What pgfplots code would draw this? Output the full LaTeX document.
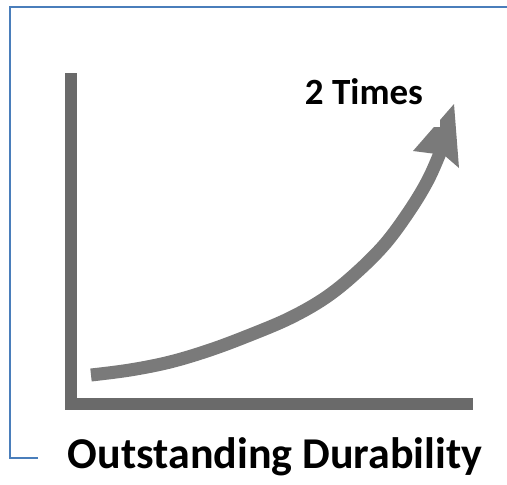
\documentclass[border=0pt]{standalone}
\usepackage{pgfplots}
\pgfplotsset{compat=1.18}
\usepackage{fontspec}
\setmainfont{Carlito}
\definecolor{frameblue}{RGB}{74,126,187}
\definecolor{axgray}{RGB}{106,106,106}
\definecolor{arrgray}{RGB}{122,122,122}
\begin{document}
\begin{tikzpicture}
\begin{axis}[
  hide axis, scale only axis,
  width=507pt, height=485pt,
  xmin=0, xmax=507, ymin=0, ymax=485,
  y dir=reverse, clip=false, anchor=south west, at={(0pt,0pt)},
]
% frame
\addplot[frameblue, line width=2.2pt, mark=none, line join=miter] coordinates {(38,458) (10,458) (10,7) (507,7)};
% axes L
\addplot[axgray, line width=12pt, mark=none, line join=miter, line cap=butt] coordinates {(71,73) (71,404) (473,404)};
% curve
\addplot[arrgray, line width=13pt, mark=none, smooth, tension=0.6, line cap=butt] coordinates {
(91,375) (130,370) (170,362) (210,350) (250,335) (290,318) (325,298) (355,274) (385,244) (410,210) (428,180) (440,153)};
% arrow head
\addplot[fill=arrgray, draw=none, mark=none] coordinates {(454,104) (459,168) (444,155) (413,151)} --cycle;
% white text box
\addplot[fill=white, draw=none, mark=none] coordinates {(295,62) (440,62) (440,127) (295,127)} --cycle;
\node[anchor=base, font=\fontsize{37}{40}\selectfont\bfseries, inner sep=0pt] at (axis cs:364,104) {2 Times};
\node[anchor=base, font=\fontsize{44}{46}\selectfont\bfseries, inner sep=0pt] at (axis cs:275,468) {Outstanding Durability};
\end{axis}
\pgfresetboundingbox
\path (0pt,0pt) rectangle (507pt,485pt);
\end{tikzpicture}
\end{document}
